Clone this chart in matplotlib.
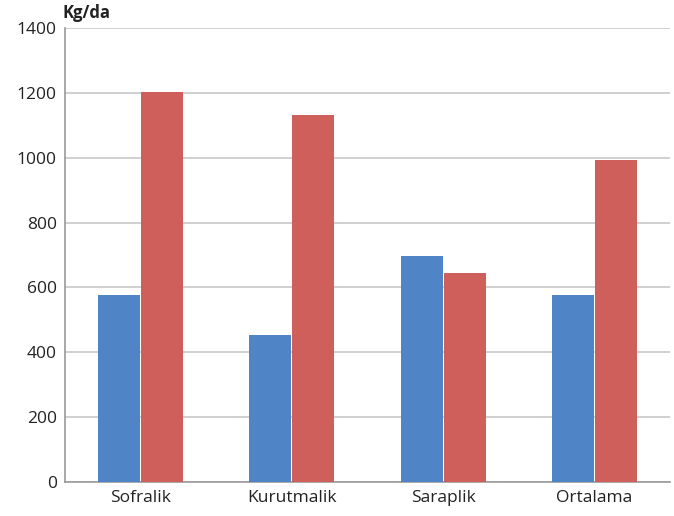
import numpy as np
import matplotlib.pyplot as plt

categories = ['Sofralik', 'Kurutmalik', 'Saraplik', 'Ortalama']
series_blue = [577, 453, 697, 577]
series_red = [1202, 1132, 644, 993]
yticks = [0, 200, 400, 600, 800, 1000, 1200, 1400]

plt.rcParams['font.family'] = ['Open Sans', 'DejaVu Sans']

fig = plt.figure(figsize=(6.74, 5.16), dpi=100)
ax = fig.add_axes([0.0964, 0.0659, 0.8976, 0.8798])

x = np.arange(len(categories))
w = 0.278
ax.bar(x - 0.142, series_blue, width=w, color='#4f85c6', zorder=3)
ax.bar(x + 0.142, series_red, width=w, color='#cf5f5a', zorder=3)

ax.set_xlim(-0.5, 3.5)
ax.set_ylim(0, 1400)
ax.set_yticks(yticks)
ax.set_xticks(x)
ax.set_xticklabels(categories)
ax.yaxis.grid(True, color='#c8c8c8', linewidth=1.2, zorder=0)
ax.tick_params(axis='both', length=0, labelsize=12.5, colors='#222222', pad=6)

for side in ['top', 'right']:
    ax.spines[side].set_visible(False)
for side in ['left', 'bottom']:
    ax.spines[side].set_color('#999999')
    ax.spines[side].set_linewidth(1.2)

fig.text(0.093, 0.975, 'Kg/da', fontsize=12, fontweight='bold', ha='left', va='center', color='#222222')

fig.savefig('out.png', dpi=100)
